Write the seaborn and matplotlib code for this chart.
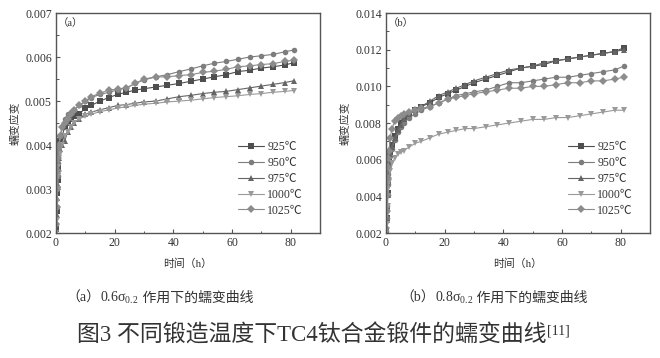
import pandas as pd
import matplotlib
matplotlib.use("Agg")
import matplotlib.pyplot as plt
import seaborn as sns
from matplotlib.ticker import MultipleLocator, FormatStrFormatter
from matplotlib.offsetbox import TextArea, HPacker, AnnotationBbox

# ---- data ----
temps = ['925℃', '950℃', '975℃', '1000℃', '1025℃']

t_a = [0.1, 0.25, 0.4, 0.55, 0.7, 0.85, 1, 1.5, 2, 3, 4, 5, 6, 8, 10, 12, 15, 18,
       21, 24, 27, 30, 34, 38, 42, 46, 50, 54, 58, 62, 66, 70, 74, 78, 81]
a_925 = [0.0021, 0.0025, 0.0029, 0.0032, 0.0035, 0.0037, 0.0039, 0.0041, 0.0042, 0.0044,
         0.0045, 0.0046, 0.00465, 0.0047, 0.00485, 0.0049, 0.0050, 0.00508, 0.00515, 0.0052,
         0.00525, 0.00528, 0.00532, 0.00536, 0.0054, 0.00545, 0.0055, 0.00555, 0.0056, 0.00567,
         0.0057, 0.00575, 0.00578, 0.00582, 0.00587]
a_950 = [0.0022, 0.0026, 0.0030, 0.0033, 0.0036, 0.0038, 0.0040, 0.0042, 0.0044, 0.0046,
         0.0047, 0.00475, 0.0048, 0.0049, 0.0050, 0.00508, 0.00515, 0.0052, 0.00525, 0.0053,
         0.0054, 0.00548, 0.00555, 0.0056, 0.00567, 0.00573, 0.0058, 0.00586, 0.0059, 0.00595,
         0.0060, 0.00603, 0.00606, 0.00612, 0.00616]
a_975 = [0.0021, 0.0024, 0.0028, 0.0031, 0.0034, 0.0036, 0.0037, 0.0039, 0.0040, 0.0041,
         0.0043, 0.0044, 0.0045, 0.0046, 0.0047, 0.00475, 0.0048, 0.00485, 0.0049, 0.00492,
         0.00495, 0.00498, 0.0050, 0.00505, 0.0051, 0.00513, 0.00517, 0.0052, 0.00522, 0.00526,
         0.0053, 0.00534, 0.00538, 0.00542, 0.00546]
a_1000 = [0.0020, 0.0023, 0.0027, 0.0030, 0.0033, 0.0035, 0.0037, 0.0038, 0.0040, 0.0042,
          0.0043, 0.0044, 0.0045, 0.0046, 0.00465, 0.0047, 0.00476, 0.0048, 0.00484, 0.00487,
          0.0049, 0.00493, 0.00495, 0.00498, 0.0050, 0.00502, 0.00505, 0.00508, 0.0051, 0.00512,
          0.00515, 0.00517, 0.0052, 0.00522, 0.00524]
a_1025 = [0.0022, 0.0026, 0.0030, 0.0034, 0.0037, 0.0039, 0.0040, 0.0042, 0.0044, 0.0045,
          0.0046, 0.0047, 0.0048, 0.0049, 0.0050, 0.0051, 0.00518, 0.00525, 0.00527, 0.0053,
          0.0054, 0.0055, 0.00555, 0.00555, 0.00558, 0.0056, 0.00565, 0.00568, 0.00572, 0.00578,
          0.0058, 0.00583, 0.00585, 0.0059, 0.00593]

t_b = [0.1, 0.25, 0.4, 0.55, 0.7, 0.85, 1, 1.5, 2, 3, 4, 5, 6, 8, 10, 12, 15, 18,
       21, 24, 27, 30, 34, 38, 42, 46, 50, 54, 58, 62, 66, 70, 74, 78, 81]
b_925 = [0.0021, 0.0028, 0.0035, 0.0042, 0.0048, 0.0054, 0.0059, 0.0064, 0.0068, 0.0073,
         0.0077, 0.0080, 0.0082, 0.0085, 0.0087, 0.0089, 0.0091, 0.0094, 0.0096, 0.0098,
         0.0100, 0.0102, 0.0104, 0.0106, 0.0108, 0.0110, 0.0111, 0.0112, 0.0114, 0.0115,
         0.0116, 0.0117, 0.0118, 0.0119, 0.0121]
b_950 = [0.0021, 0.0028, 0.0035, 0.0041, 0.0047, 0.0052, 0.0057, 0.0062, 0.0066, 0.0071,
         0.0075, 0.0078, 0.0080, 0.0083, 0.0085, 0.0087, 0.0089, 0.0091, 0.0093, 0.0095,
         0.0096, 0.0097, 0.0098, 0.0100, 0.0102, 0.0102, 0.0103, 0.0104, 0.0105, 0.0105,
         0.0106, 0.0107, 0.0108, 0.0109, 0.0111]
b_975 = [0.0021, 0.0027, 0.0034, 0.0041, 0.0047, 0.0053, 0.0058, 0.0063, 0.0067, 0.0072,
         0.0076, 0.0079, 0.0082, 0.0085, 0.0087, 0.0089, 0.0092, 0.0095, 0.0097, 0.0099,
         0.0101, 0.0103, 0.0105, 0.0107, 0.0109, 0.0110, 0.0111, 0.0113, 0.0114, 0.0115,
         0.0116, 0.0117, 0.0118, 0.0119, 0.0120]
b_1000 = [0.0020, 0.0025, 0.0030, 0.0035, 0.0040, 0.0044, 0.0048, 0.0054, 0.0058, 0.0061,
          0.0063, 0.0064, 0.0065, 0.0067, 0.0069, 0.0070, 0.0072, 0.0074, 0.0075, 0.0076,
          0.0077, 0.0077, 0.0078, 0.0079, 0.0080, 0.0081, 0.0082, 0.0082, 0.0083, 0.0083,
          0.0084, 0.0085, 0.0086, 0.0087, 0.0087]
b_1025 = [0.0023, 0.0032, 0.0041, 0.0050, 0.0056, 0.0061, 0.0065, 0.0072, 0.0077, 0.0081,
          0.0083, 0.0084, 0.0085, 0.0086, 0.0087, 0.0088, 0.0089, 0.0091, 0.0093, 0.0094,
          0.0095, 0.0096, 0.0097, 0.0098, 0.0099, 0.0099, 0.0100, 0.0100, 0.0101, 0.0102,
          0.0102, 0.0103, 0.0103, 0.0104, 0.0105]


def to_long(t, series):
    frames = [pd.DataFrame({'time': t, 'strain': vals, 'temp': name})
              for name, vals in zip(temps, series)]
    return pd.concat(frames, ignore_index=True)


df_a = to_long(t_a, [a_925, a_950, a_975, a_1000, a_1025])
df_b = to_long(t_b, [b_925, b_950, b_975, b_1000, b_1025])

sns.set_theme(style='ticks')
FAM = ['Liberation Serif', 'Noto Sans CJK SC']
plt.rcParams['font.family'] = FAM
plt.rcParams['mathtext.fontset'] = 'custom'
plt.rcParams['mathtext.rm'] = 'Liberation Serif'
plt.rcParams['mathtext.it'] = 'Liberation Serif:italic'

palette = dict(zip(temps, ['#4f4f4f', '#7d7d7d', '#656565', '#9a9a9a', '#8c8c8c']))
markers = dict(zip(temps, ['s', 'o', '^', 'v', 'D']))
edge = '#555555'

fig = plt.figure(figsize=(6.6, 3.58), dpi=100)
ax_a = fig.add_axes([0.0848, 0.349, 0.40, 0.6145])
ax_b = fig.add_axes([0.5848, 0.349, 0.40, 0.6145])

for ax, df, ylim, ystep, tag in [(ax_a, df_a, (0.002, 0.007), 0.001, '（a）'),
                                 (ax_b, df_b, (0.002, 0.014), 0.002, '（b）')]:
    sns.lineplot(data=df, x='time', y='strain', hue='temp', style='temp',
                 hue_order=temps, style_order=temps, palette=palette,
                 markers=markers, dashes=False, estimator=None,
                 lw=0.8, markersize=4, markeredgewidth=0, ax=ax)
    ax.set_xlim(0, 90)
    ax.set_ylim(*ylim)
    ax.xaxis.set_major_locator(MultipleLocator(20))
    ax.xaxis.set_minor_locator(MultipleLocator(10))
    ax.yaxis.set_major_locator(MultipleLocator(ystep))
    ax.yaxis.set_minor_locator(MultipleLocator(ystep / 2))
    ax.yaxis.set_major_formatter(FormatStrFormatter('%.3f'))
    ax.tick_params(which='both', direction='in', color=edge, labelsize=8.5,
                   labelcolor='#333333', pad=3)
    ax.tick_params(which='major', length=3, width=0.8)
    ax.tick_params(which='minor', length=1.8, width=0.7)
    for s in ax.spines.values():
        s.set_color(edge)
        s.set_linewidth(1.0)
    ax.set_xlabel('时间（h）', fontsize=7.8, color='#333333')
    ax.set_ylabel('蠕变应变', fontsize=7.8, color='#333333')
    ax.xaxis.set_label_coords(0.5, -0.115)
    ax.yaxis.set_label_coords(-0.133, 0.5)
    ax.text(0.005, 0.955, tag, transform=ax.transAxes, fontsize=7.5,
            color='#333333', va='center', ha='left')
    h, l = ax.get_legend_handles_labels()
    ax.legend(h, l, loc='lower right', bbox_to_anchor=(0.935, 0.075),
              frameon=False, prop=dict(family=FAM, size=8.5),
              handlelength=2.2, handletextpad=0.3, labelspacing=0.32,
              borderpad=0, borderaxespad=0, labelcolor='#333333')


def caption(parts, xy, ax, align='baseline'):
    boxes = [TextArea(s, textprops=dict(fontsize=fs, family=fam, color='#333333'))
             for s, fs, fam in parts]
    pack = HPacker(children=boxes, align=align, pad=0, sep=0)
    ab = AnnotationBbox(pack, xy, xycoords='figure fraction', frameon=False,
                        box_alignment=(0.5, 0.5), pad=0)
    ax.add_artist(ab)


caption([('（a）', 10, FAM), ('0.6σ$_{0.2}$', 10, 'Liberation Serif'),
         (' 作用下的蠕变曲线', 10, FAM)], (0.242, 0.168), ax_a)
caption([('（b）', 10, FAM), ('0.8σ$_{0.2}$', 10, 'Liberation Serif'),
         (' 作用下的蠕变曲线', 10, FAM)], (0.748, 0.168), ax_b)
caption([('图3 不同锻造温度下TC4钛合金锻件的蠕变曲线', 16.5, FAM),
         ('[11]', 10, 'Liberation Serif')], (0.49, 0.062), ax_a, align='top')

fig.savefig('out.png', dpi=100)
